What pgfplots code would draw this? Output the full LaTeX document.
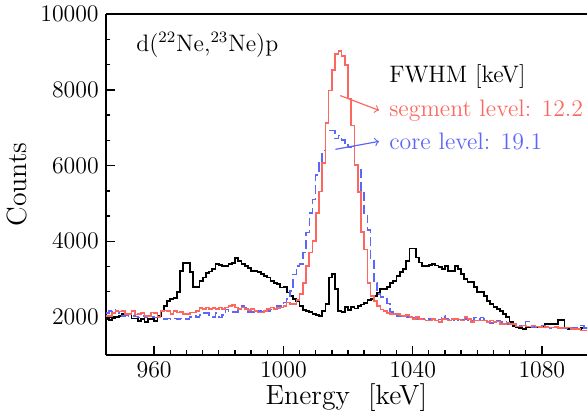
\documentclass[border=0pt]{standalone}
\usepackage{pgfplots}
\pgfplotsset{compat=1.18}
\usepackage{pgfplotstable}
\definecolor{segred}{RGB}{252,104,96}
\definecolor{coreblue}{RGB}{92,102,250}

\pgfplotstableread{
x b r c
945 1950 2030 2100
946 1920 2030 2160
947 1960 2100 2200
948 2000 2150 2160
949 2020 2140 2100
950 2075 2160 2030
951 2075 2075 2050
952 2075 2075 2030
953 1960 2160 2030
954 1960 2060 2010
955 1900 2080 1990
956 1940 2100 2030
957 1870 2030 2000
958 1950 2030 2030
959 1940 2120 2000
960 1900 2110 1990
961 2030 1990 1990
962 2160 2160 1980
963 2290 2170 1945
964 2420 2160 1960
965 2470 2080 1945
966 2500 2160 1960
967 2650 2120 1945
968 3210 2130 1960
969 3415 2080 1945
970 3415 2080 1945
971 3180 2120 2000
972 2785 2120 2030
973 2800 2160 2000
974 2950 2230 2050
975 3040 2210 2100
976 3170 2250 2100
977 3200 2210 2050
978 3275 2230 2000
979 3390 2210 2100
980 3370 2250 1990
981 3345 2210 2050
982 3345 2250 2200
983 3390 2290 2150
984 3430 2320 2130
985 3560 2250 2130
986 3475 2210 2200
987 3390 2250 2290
988 3345 2210 2250
989 3300 2190 2130
990 3215 2210 2130
991 3215 2160 2130
992 3190 2120 2160
993 3125 2120 2130
994 3090 2160 2200
995 3040 2210 2150
996 2950 2250 2200
997 2905 2210 2200
998 2860 2230 2290
999 2775 2250 2290
1000 2800 2290 2380
1001 2645 2380 2470
1002 2555 2340 2690
1003 2470 2340 3125
1004 2420 2450 3340
1005 2290 2600 3400
1006 2190 2900 3700
1007 2150 3340 4230
1008 2120 3700 4750
1009 2075 4000 5100
1010 2050 4750 5750
1011 2015 5310 6070
1012 2165 6070 6400
1013 2340 7120 6900
1014 3040 7980 6930
1015 3125 8530 6930
1016 2730 8950 6720
1017 2165 9030 6800
1018 2130 8900 6670
1019 2260 8660 6600
1020 2190 7770 6490
1021 2260 7060 6500
1022 2220 6010 6010
1023 2290 5300 5880
1024 2330 4250 5360
1025 2370 3780 4750
1026 2450 2900 4300
1027 2470 2550 3520
1028 2560 2420 2900
1029 2645 2290 2600
1030 2730 2200 2520
1031 2730 2150 2500
1032 2800 2100 2350
1033 2900 2075 2130
1034 2950 2075 2075
1035 3080 2075 2030
1036 3180 2040 2030
1037 3260 2030 1990
1038 3470 2050 2000
1039 3810 1990 1990
1040 3810 1945 1990
1041 3570 1990 1945
1042 3440 1945 1960
1043 3340 1930 1945
1044 3340 1900 1900
1045 3380 1900 1945
1046 3400 1945 1945
1047 3360 1900 1900
1048 3310 1860 1930
1049 3260 1945 2030
1050 3340 1930 1945
1051 3210 1900 1930
1052 3210 1945 1900
1053 3340 1945 1945
1054 3260 1930 1900
1055 3125 1900 1930
1056 3000 1990 1945
1057 2925 1945 1900
1058 2920 1860 1900
1059 2785 1900 1990
1060 2650 1900 1945
1061 2650 1900 1990
1062 2560 1900 1945
1063 2420 1860 1860
1064 2340 1900 1840
1065 2260 1860 1860
1066 2200 1880 1900
1067 2150 1815 1860
1068 2075 1815 1880
1069 2000 1850 1815
1070 1870 1815 1815
1071 1760 1815 1770
1072 1720 1750 1750
1073 1700 1750 1770
1074 1680 1770 1750
1075 1735 1750 1880
1076 1735 1750 1750
1077 1735 1770 1730
1078 1735 1750 1725
1079 1740 1740 1725
1080 1735 1725 1770
1081 1815 1740 1725
1082 1815 1725 1700
1083 1815 1725 1725
1084 1815 1740 1740
1085 1925 1700 1725
1086 1925 1700 1700
1087 1700 1725 1700
1088 1680 1725 1720
1089 1680 1680 1725
1090 1690 1680 1700
1091 1690 1680 1770
1092 1700 1640 1770
1093 1700 1640 1700
1094 1700 1640 1680
1095 1700 1640 1680
}\datatable

\begin{document}
\begin{tikzpicture}
\begin{axis}[
  scale only axis, width=242.5pt, height=171.5pt,
  xmin=945, xmax=1094, ymin=1000, ymax=10000,
  axis x line*=box, axis y line*=left,
  xtick={960,1000,1040,1080}, minor x tick num=7,
  ytick={2000,4000,6000,8000,10000}, minor y tick num=2,
  xtick pos=bottom, ytick pos=left,
  tick align=inside,
  major tick length=4.5pt, minor tick length=2.2pt,
  axis line style={line width=0.9pt},
  every tick/.style={line width=0.7pt, black},
  scaled y ticks=false,
  /pgf/number format/1000 sep={},
  tick label style={font=\fontsize{12}{14}\selectfont},
  xlabel={Energy~~[keV]}, ylabel={Counts},
  label style={font=\fontsize{14}{16}\selectfont},
  xlabel style={yshift=3.5pt},
  clip=true,
]
\addplot[const plot, black, line width=0.9pt] table[x=x, y=b] {\datatable};
\addplot[const plot, coreblue, line width=0.75pt, dash pattern=on 4.5pt off 2pt] table[x=x, y=c] {\datatable};
\addplot[const plot, segred, line width=0.8pt] table[x=x, y=r] {\datatable};

\node[anchor=west, font=\fontsize{12}{14}\selectfont] at (axis cs:952.3,9200) {d(\textsuperscript{22}Ne,\textsuperscript{23}Ne)p};
\node[anchor=west, font=\fontsize{12}{14}\selectfont] at (axis cs:1030.6,8350) {FWHM [keV]};
\node[anchor=west, font=\fontsize{12}{14}\selectfont, text=segred] at (axis cs:1030.6,7460) {segment level: 12.2};
\node[anchor=west, font=\fontsize{12}{14}\selectfont, text=coreblue] at (axis cs:1030.6,6640) {core level: 19.1};
\draw[->, segred, line width=0.6pt] (axis cs:1017.6,7850) -- (axis cs:1029.6,7460);
\draw[->, coreblue, line width=0.6pt] (axis cs:1016.1,6430) -- (axis cs:1029.6,6640);
\end{axis}
\path (current axis.south west) ++(0,-28pt);
\end{tikzpicture}
\end{document}
